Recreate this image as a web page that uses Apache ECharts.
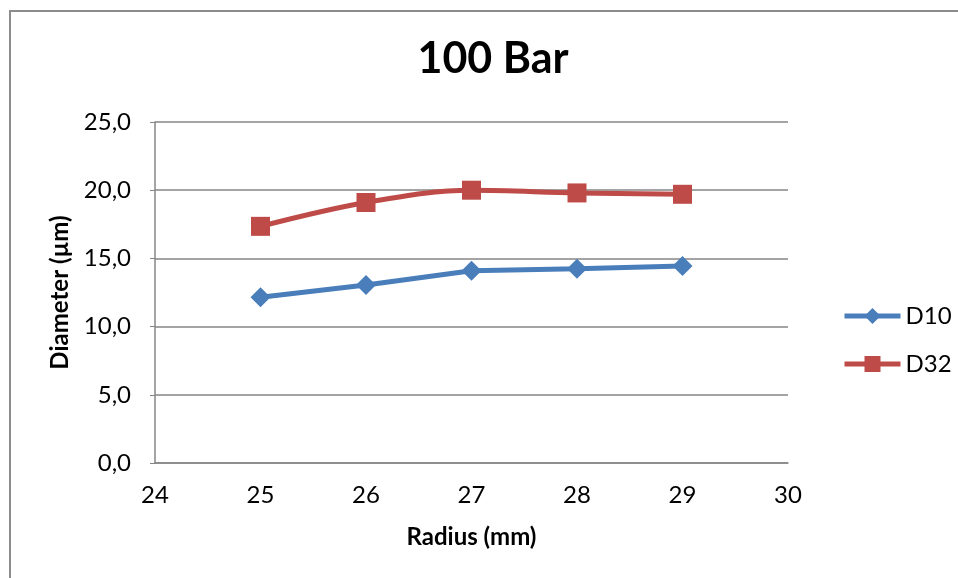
<!DOCTYPE html>
<html>
<head>
<meta charset="utf-8">
<script src="https://cdn.jsdelivr.net/npm/echarts@6/dist/echarts.min.js"></script>
<style>
  html, body { margin: 0; padding: 0; background: #fff; }
  #chart { width: 958px; height: 578px; }
</style>
</head>
<body>
<div id="chart"></div>
<script>
// Radius positions (mm) and measured droplet diameters (µm)
const radius = [25, 26, 27, 28, 29];
const d10 = [12.15, 13.05, 14.1, 14.25, 14.45];
const d32 = [17.35, 19.1, 20.0, 19.8, 19.7];
const seriesNames = ['D10', 'D32'];

const FONT = 'Lato, "Open Sans", sans-serif';

const chart = echarts.init(document.getElementById('chart'), null, { renderer: 'canvas' });

chart.setOption({
  backgroundColor: '#ffffff',
  animation: false,
  graphic: [{
    type: 'rect',
    shape: { x: 10, y: 11, width: 1000, height: 700 },
    style: { fill: 'none', stroke: '#8c8c8c', lineWidth: 2 },
    silent: true
  }],
  title: {
    text: '100 Bar',
    left: 488,
    textAlign: 'center',
    top: 33,
    textStyle: { fontFamily: FONT, fontSize: 43, fontWeight: 'bold', color: '#000' }
  },
  grid: { left: 155, right: 170, top: 122, bottom: 115 },
  legend: {
    orient: 'vertical',
    left: 837,
    top: 299,
    itemGap: 24,
    itemWidth: 56,
    itemHeight: 20,
    data: seriesNames,
    lineStyle: { width: 5 },
    textStyle: { fontFamily: FONT, fontSize: 24, color: '#000' }
  },
  xAxis: {
    type: 'value',
    min: 24,
    max: 30,
    interval: 1,
    name: 'Radius (mm)',
    nameLocation: 'middle',
    nameGap: 62,
    nameTextStyle: { fontFamily: FONT, fontSize: 24, fontWeight: 'bold', color: '#000' },
    axisLine: { show: true, lineStyle: { color: '#868686', width: 1.5 } },
    axisTick: { show: false },
    splitLine: { show: false },
    axisLabel: { fontFamily: FONT, fontSize: 24, color: '#000', margin: 20 }
  },
  yAxis: {
    type: 'value',
    min: 0,
    max: 25,
    interval: 5,
    name: 'Diameter (µm)',
    nameLocation: 'middle',
    nameGap: 83,
    nameTextStyle: { fontFamily: FONT, fontSize: 24, fontWeight: 'bold', color: '#000' },
    axisLine: { show: true, lineStyle: { color: '#868686', width: 1.5 } },
    axisTick: { show: true, length: 5, lineStyle: { color: '#868686' } },
    splitLine: { show: true, lineStyle: { color: '#868686', width: 1.5 } },
    axisLabel: {
      fontFamily: FONT, fontSize: 24, color: '#000', margin: 24,
      formatter: v => v.toFixed(1).replace('.', ',')
    }
  },
  series: [
    {
      name: seriesNames[0],
      type: 'line',
      data: radius.map((r, i) => [r, d10[i]]),
      symbol: 'diamond',
      symbolSize: 20,
      lineStyle: { color: '#4a7ebb', width: 5 },
      itemStyle: { color: '#4a7ebb' }
    },
    {
      name: seriesNames[1],
      type: 'line',
      smooth: 0.35,
      data: radius.map((r, i) => [r, d32[i]]),
      symbol: 'rect',
      symbolSize: 19,
      lineStyle: { color: '#be4b48', width: 5 },
      itemStyle: { color: '#be4b48' }
    }
  ]
});
</script>
</body>
</html>
